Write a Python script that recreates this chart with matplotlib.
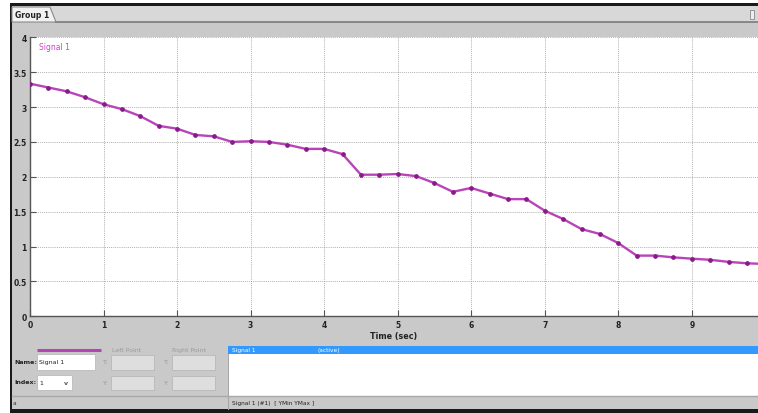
import matplotlib
matplotlib.use("Agg")
import matplotlib.pyplot as plt
from matplotlib.patches import Rectangle, Polygon

# ---- data ----
time_sec = [0.0, 0.25, 0.5, 0.75, 1.0, 1.25, 1.5, 1.75, 2.0, 2.25,
            2.5, 2.75, 3.0, 3.25, 3.5, 3.75, 4.0, 4.25, 4.5, 4.75,
            5.0, 5.25, 5.5, 5.75, 6.0, 6.25, 6.5, 6.75, 7.0, 7.25,
            7.5, 7.75, 8.0, 8.25, 8.5, 8.75, 9.0, 9.25, 9.5, 9.75, 10.0]
signal_1 = [3.335, 3.28, 3.225, 3.14, 3.04, 2.97, 2.87, 2.73, 2.69, 2.60,
            2.58, 2.50, 2.51, 2.50, 2.46, 2.40, 2.40, 2.325, 2.03, 2.03,
            2.04, 2.01, 1.91, 1.785, 1.84, 1.76, 1.68, 1.68, 1.514, 1.395,
            1.25, 1.18, 1.05, 0.87, 0.87, 0.845, 0.826, 0.81, 0.78, 0.76, 0.75]
x_ticks = [0, 1, 2, 3, 4, 5, 6, 7, 8, 9]
y_ticks = [0, 0.5, 1, 1.5, 2, 2.5, 3, 3.5, 4]
y_tick_labels = ["0", "0.5", "1", "1.5", "2", "2.5", "3", "3.5", "4"]
x_label = "Time (sec)"
group_tab = "Group 1"
signal_name = "Signal 1"

W, H = 758, 414
fig = plt.figure(figsize=(W / 100, H / 100), dpi=100)
fig.patch.set_facecolor("#c9c9c9")

# overlay in pixel coordinates for the GUI frame
bg = fig.add_axes([0, 0, 1, 1], zorder=0)
bg.set_xlim(0, W)
bg.set_ylim(H, 0)
bg.axis("off")

GRAY = "#c9c9c9"
# outer black frame
bg.add_patch(Rectangle((0, 0), W, H, facecolor="white", edgecolor="none"))
bg.add_patch(Rectangle((10, 4), W - 10, 410, facecolor="#1a1a1a", edgecolor="none"))
bg.add_patch(Rectangle((12, 7), W - 12, 403, facecolor=GRAY, edgecolor="none"))
# tab strip
bg.add_patch(Rectangle((12, 7), W - 12, 16, facecolor="#d8d8d8", edgecolor="none"))
bg.add_patch(Polygon([(12, 23), (12, 8), (50, 8), (56, 23)], closed=True,
                     facecolor="#f2f2f2", edgecolor="#8a8a8a", linewidth=0.8))
bg.text(15, 16, group_tab, fontsize=5.5, fontweight="bold", color="#222222",
        va="center", ha="left")
bg.plot([56, W], [23, 23], color="#7a7a7a", linewidth=1.2)
bg.add_patch(Rectangle((750, 11), 4, 9, facecolor="#eeeeee", edgecolor="#888888", linewidth=0.6))

# bottom panel
bg.plot([37, 101], [351, 351], color="#b545b5", linewidth=2.2, solid_capstyle="butt")
bg.text(112, 351, "Left Point", fontsize=4.5, color="#9a9a9a", va="center")
bg.text(172, 351, "Right Point", fontsize=4.5, color="#9a9a9a", va="center")
bg.text(14, 363, "Name:", fontsize=4.5, fontweight="bold", color="#222222", va="center")
bg.add_patch(Rectangle((37, 355), 58, 16, facecolor="white", edgecolor="#bbbbbb", linewidth=0.6))
bg.text(39, 363, signal_name, fontsize=4.5, color="#222222", va="center")
bg.text(14, 383, "Index:", fontsize=4.5, fontweight="bold", color="#222222", va="center")
bg.add_patch(Rectangle((37, 376), 35, 15, facecolor="white", edgecolor="#bbbbbb", linewidth=0.6))
bg.text(39, 383.5, "1", fontsize=4.5, color="#222222", va="center")
bg.text(66, 383.5, "v", fontsize=4.5, fontweight="bold", color="#555555", va="center", ha="center")
for bx in (111, 172):
    bg.text(bx - 8, 363, "T:", fontsize=4.5, color="#9a9a9a", va="center")
    bg.text(bx - 8, 383.5, "Y:", fontsize=4.5, color="#9a9a9a", va="center")
    bg.add_patch(Rectangle((bx, 356), 43, 15, facecolor="#dedede", edgecolor="#b8b8b8", linewidth=0.6))
    bg.add_patch(Rectangle((bx, 377), 43, 14, facecolor="#dedede", edgecolor="#b8b8b8", linewidth=0.6))

# signal list box
bg.add_patch(Rectangle((228, 347), W - 228, 50, facecolor="white", edgecolor="#9a9a9a", linewidth=0.6))
bg.add_patch(Rectangle((228, 347), W - 228, 8, facecolor="#3399ff", edgecolor="none"))
bg.text(232, 351, "Signal 1", fontsize=4.2, color="white", va="center")
bg.text(318, 351, "(active)", fontsize=4.2, color="white", va="center")

# status bar
bg.plot([12, W], [397.5, 397.5], color="#a8a8a8", linewidth=1.0)
bg.plot([228, 228], [397.5, 410], color="#a8a8a8", linewidth=0.8)
bg.text(13, 404, "a", fontsize=4.2, color="#333333", va="center")
bg.text(232, 404, "Signal 1 (#1)  [ YMin YMax ]", fontsize=4.2, color="#222222", va="center")

# ---- plot area ----
L, R, T, B = 30, 758, 38.3, 317.3
ax = fig.add_axes([L / W, (H - B) / H, (R - L) / W, (B - T) / H], zorder=2)
ax.set_facecolor("white")
ax.plot(time_sec, signal_1, color="#b845b8", linewidth=1.7, marker="o",
        markersize=2.4, markerfacecolor="#8a1a8a", markeredgecolor="#8a1a8a",
        clip_on=True, zorder=3)
ax.set_xlim(0, 9.9)
ax.set_ylim(0, 4)
ax.set_xticks(x_ticks)
ax.set_yticks(y_ticks)
ax.set_yticklabels(y_tick_labels)
ax.grid(True, linestyle=(0, (1, 1.3)), color="#9a9a9a", linewidth=0.6)
ax.tick_params(direction="in", length=4, width=0.8, color="#555555",
               labelsize=5.5, pad=2.5, labelcolor="#222222")
for lab in ax.get_xticklabels() + ax.get_yticklabels():
    lab.set_fontweight("bold")
for s in ("top", "right"):
    ax.spines[s].set_visible(False)
for s in ("left", "bottom"):
    ax.spines[s].set_color("#555555")
    ax.spines[s].set_linewidth(1.0)
ax.set_xlabel(x_label, fontsize=5.8, fontweight="bold", color="#222222", labelpad=1.5)
ax.text(0.12, 3.87, signal_name, fontsize=5.5, color="#d040d0", va="center")

fig.savefig("out.png", dpi=100, facecolor=fig.get_facecolor())
